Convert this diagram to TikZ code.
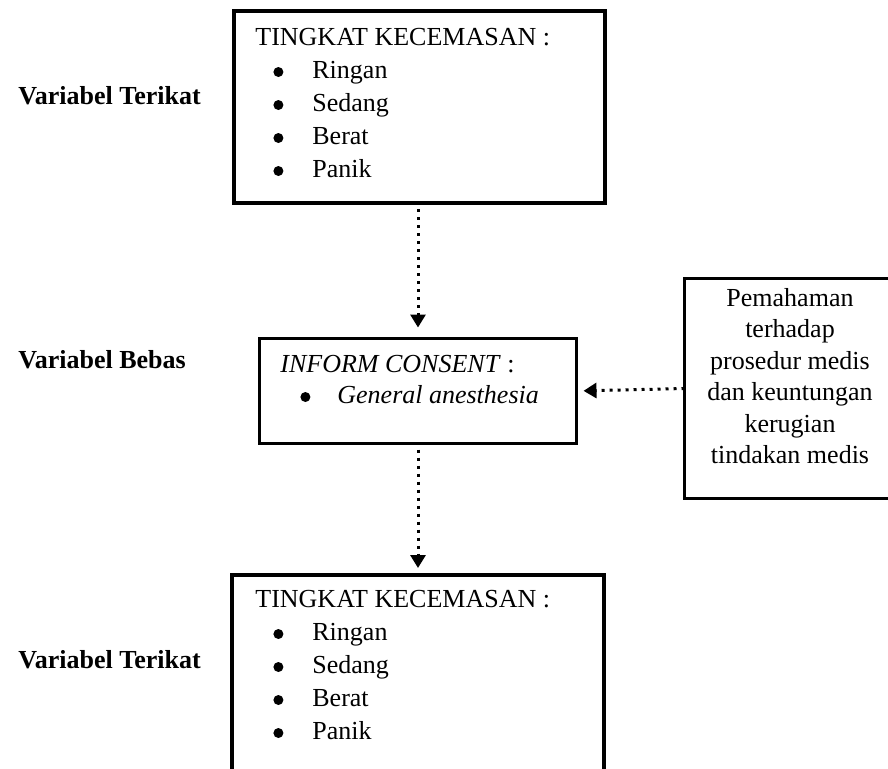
\documentclass[tikz,border=0pt]{standalone}
\usepackage{fontspec}
\setmainfont{Liberation Serif}
\usetikzlibrary{arrows.meta}
\newcommand{\kitem}[2][9pt]{\makebox[28.5pt][l]{\hspace{#1}\raisebox{0.5pt}{\tikz\fill (0,0) circle (2.5pt);}}#2}
\begin{document}
\begin{tikzpicture}
        [
          x=0.5pt, y=-0.5pt,
          box/.style={draw=black, line width=2pt, inner sep=0pt, outer sep=0pt},
          thinbox/.style={box, line width=1.6pt},
          txt/.style={inner sep=0pt, anchor=base west, font=\fontsize{13}{16.5}\selectfont},
          var/.style={txt, font=\fontsize{13}{16.5}\selectfont\bfseries},
          dotarrow/.style={line width=1.5pt, dash pattern=on 1.5pt off 2.5pt,
            -{Triangle[length=6.5pt,width=7.5pt]}}
        ]
        \useasboundingbox (0,0) rectangle (888,768);
        % boxes
        \node [box, minimum width=185.5pt, minimum height=96pt] (top) at (419.5,107) {};
        \node [thinbox, minimum width=158.5pt, minimum height=52.5pt] (mid) at (418,391) {};
        \node [thinbox, minimum width=105.5pt, minimum height=110pt] (side) at (790,388.5) {};
        \node [box, minimum width=186pt, minimum height=99pt] (bot) at (418,674) {};
        % box texts
        \node [txt] (toptxt) at (255,45) {\begin{tabular}[t]{@{}l@{}}
            TINGKAT KECEMASAN :\\
            \kitem{Ringan}\\
            \kitem{Sedang}\\
            \kitem{Berat}\\
            \kitem{Panik}
          \end{tabular}};
        \node [txt, font=\fontsize{13}{15.5}\selectfont] (midtxt) at (280,372) {\begin{tabular}[t]{@{}l@{}}
            \textit{INFORM CONSENT} :\\
            \kitem[10pt]{\textit{General anesthesia}}
          \end{tabular}};
        \node [txt, anchor=base, font=\fontsize{13}{15.75}\selectfont] (sidetxt) at (790,306) {\begin{tabular}[t]{@{}c@{}}
            Pemahaman\\
            terhadap\\
            prosedur medis\\
            dan keuntungan\\
            kerugian\\
            tindakan medis
          \end{tabular}};
        \node [txt] (bottxt) at (255,607) {\begin{tabular}[t]{@{}l@{}}
            TINGKAT KECEMASAN :\\
            \kitem{Ringan}\\
            \kitem{Sedang}\\
            \kitem{Berat}\\
            \kitem{Panik}
          \end{tabular}};
        % labels
        \node [var] (vtop) at (18,104) {Variabel Terikat};
        \node [var] (vmid) at (18,368) {Variabel Bebas};
        \node [var] (vbot) at (18,668) {Variabel Terikat};
        % arrows
        \draw [dotarrow, shorten <=3pt, shorten >=5.5pt] (top.south -| mid.north) -- (mid.north);
        \draw [dotarrow, shorten <=3pt, shorten >=3.5pt] (mid.south) -- (bot.north);
        \draw [dotarrow, shorten >=3.5pt] (side.west) -- (mid.east);
\end{tikzpicture}
\end{document}
